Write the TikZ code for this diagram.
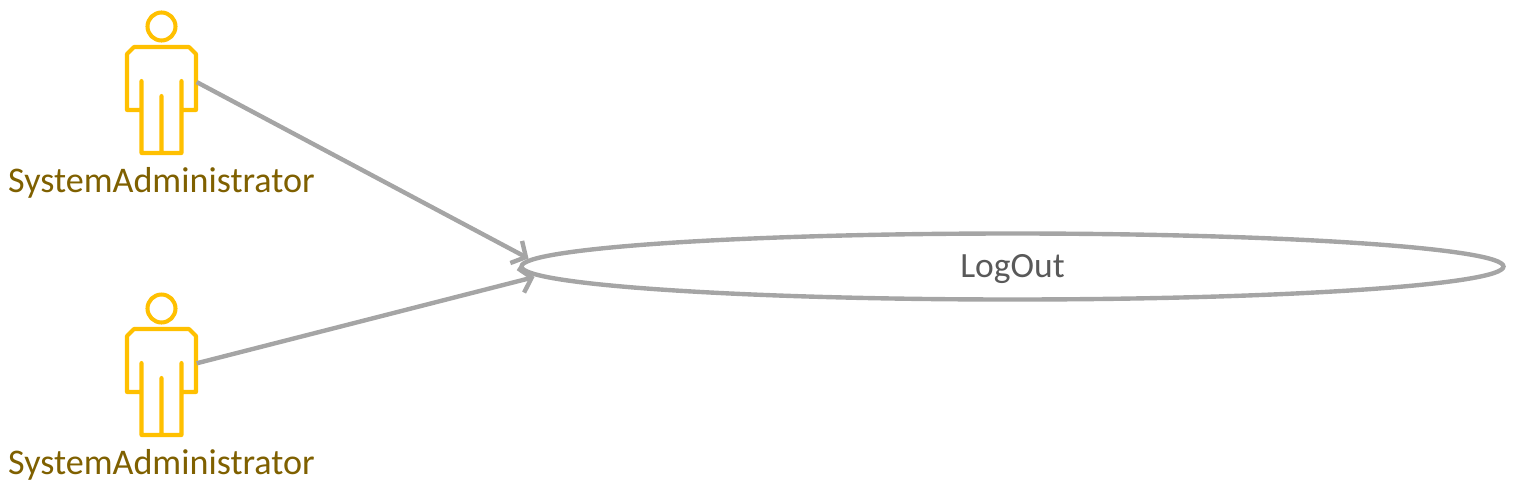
\documentclass[tikz,border=0pt]{standalone}
\usepackage{fontspec}
\setmainfont{Carlito}
\usetikzlibrary{shapes.geometric}
\usetikzlibrary{positioning}
\usetikzlibrary{arrows.meta}
\definecolor{actoryellow}{HTML}{FFC000}
\definecolor{actortext}{HTML}{7F6000}
\definecolor{linegray}{HTML}{A5A5A5}
\definecolor{casetext}{HTML}{595959}
\tikzset{
	actor figure/.pic={
		\draw[actoryellow,line width=1.15pt,line join=round,line cap=round]
		(0,0.735) circle (0.14)
		(-0.275,0.53) -- (0.275,0.53) -- (0.345,0.46) -- (0.345,-0.1) -- (0.2,-0.1) -- (0.2,-0.53) -- (-0.2,-0.53) -- (-0.2,-0.1) -- (-0.345,-0.1) -- (-0.345,0.46) -- cycle
		(-0.2,0.19) -- (-0.2,-0.1)
		(0.2,0.19) -- (0.2,-0.1)
		(0,0.04) -- (0,-0.53);
	}
}

\begin{document}
\begin{tikzpicture}[>={Straight Barb[length=0.11cm,width=0.25cm]},
	actor node/.style={rectangle,inner sep=0pt,minimum width=0.69cm,minimum height=1.06cm},
	actor label/.style={text=actortext,font=\fontsize{10.27pt}{12pt}\selectfont,inner sep=0pt},
	case node/.style={ellipse,draw=linegray,line width=1.25pt,inner sep=0pt,minimum width=9.82cm,minimum height=0.66cm,text=casetext,text depth=0.5pt,font=\fontsize{10.1pt}{12pt}\selectfont},
	assoc/.style={->,draw=linegray,line width=1.25pt}]

		\useasboundingbox (0,0) rectangle (15.29,-4.96);

		\node[actor node] at (1.615,-1) (admin1) {};
		\node[actor label, below = 0.135cm of admin1] (label1) {SystemAdministrator};
		\node[actor node] at (1.615,-3.82) (admin2) {};
		\node[actor label, below = 0.135cm of admin2] (label2) {SystemAdministrator};
		\node[case node] at (10.125,-2.665) (logout) {LogOut};
		\coordinate (tip1) at (5.285,-2.585);
		\coordinate (tip2) at (5.345,-2.77);

		\pic at (admin1) {actor figure};
		\pic at (admin2) {actor figure};

		\path
		(admin1.27) edge[assoc] (tip1)
		(admin2.28) edge[assoc] (tip2)
		;

\end{tikzpicture}
\end{document}
